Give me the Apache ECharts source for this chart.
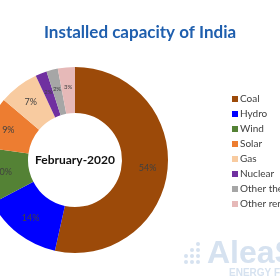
<!DOCTYPE html>
<html>
<head>
<meta charset="utf-8">
<script src="https://cdn.jsdelivr.net/npm/echarts@6/dist/echarts.min.js"></script>
<style>
html,body{margin:0;padding:0;background:#fff;}
#c{width:280px;height:280px;}
</style>
</head>
<body>
<div id="c"></div>
<script>
const categories = ['Coal','Hydro','Wind','Solar','Gas','Nuclear','Other thermal','Other renewable'];
const shares = [54,14,10,9,7,2,2,3];
const colors = ['#9c4a09','#0000ff','#548235','#ed7d31','#f8cba0','#7030a0','#a6a6a6','#e6b9b8'];
const smallLabel = [false,false,false,false,false,true,true,true];

const chart = echarts.init(document.getElementById('c'));
const data = categories.map((n,i)=>({
  name:n, value:shares[i],
  itemStyle:{color:colors[i]},
  label:{fontSize: smallLabel[i]?6:9}
}));
const dots = [];
const dotPos = [[186,262],[186,256],[192,262],[192,256],[192,250],[198,262],[198,256],[198,250],[198,244]];
dotPos.forEach(p=>dots.push({type:'circle',shape:{cx:p[0],cy:p[1],r:2},style:{fill:'#d6e2f0'},silent:true}));

chart.setOption({
  animation:false,
  title:{
    text:'Installed capacity of India',
    left:'center', top:19,
    textStyle:{color:'#1f5fae',fontFamily:'Lato',fontWeight:'bold',fontSize:17}
  },
  legend:{
    orient:'vertical', left:227, top:89,
    itemWidth:6, itemHeight:6, itemGap:5,
    icon:'rect',
    textStyle:{fontFamily:'Lato',fontSize:10,color:'#404040',lineHeight:10,padding:[0,0,0,-3]},
    data:categories
  },
  graphic:[
    ...dots,
    {type:'text',left:207,top:238,silent:true,style:{text:'AleaSoft',fill:'#d6e2f0',font:'bold 32px "Liberation Sans"'}},
    {type:'text',left:229,top:268,silent:true,style:{text:'ENERGY FORECASTING',fill:'#d6e2f0',font:'bold 10px "Liberation Sans"'}},
    {type:'text',x:75,y:160,z:10,silent:true,
     style:{text:'February-2020',fill:'#111',font:'bold 12px Lato',textAlign:'center',textVerticalAlign:'middle'}}
  ],
  series:[{
    type:'pie',
    center:[75,160],
    radius:[47,93],
    startAngle:90,
    clockwise:true,
    avoidLabelOverlap:false,
    label:{show:true,position:'inside',formatter:'{c}%',color:'#404040',fontFamily:'Lato',fontSize:9},
    labelLine:{show:false},
    itemStyle:{borderWidth:0},
    emphasis:{disabled:true},
    data:data
  }]
});
</script>
</body>
</html>
